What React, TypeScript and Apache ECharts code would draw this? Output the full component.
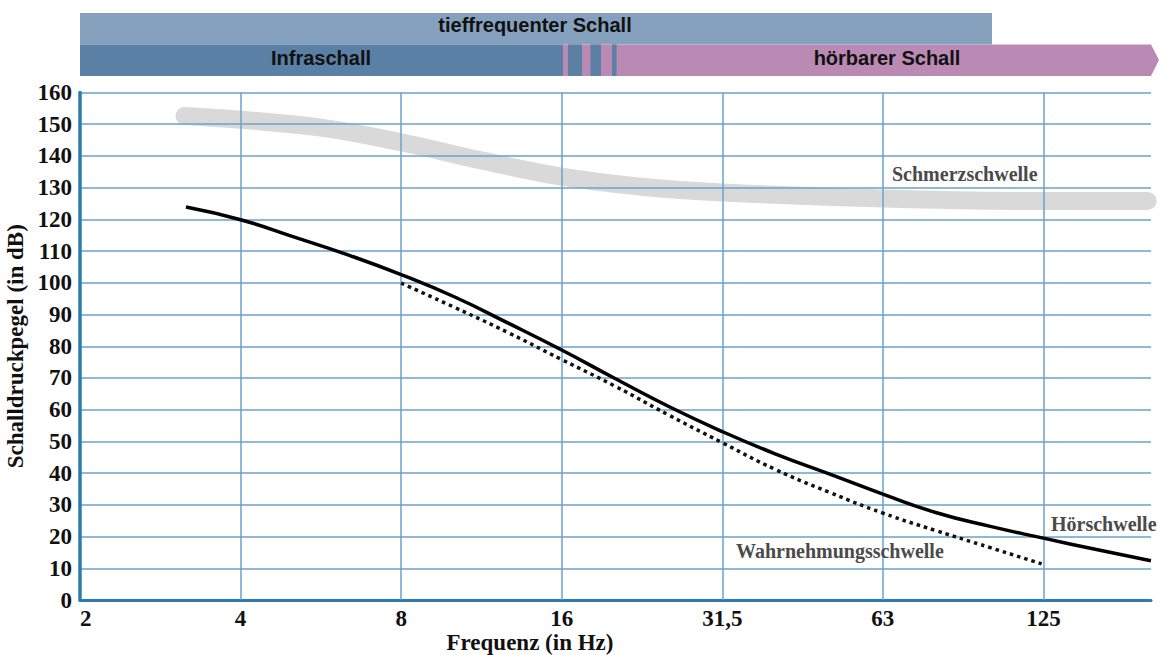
import React, { useEffect, useRef } from "react";
import * as echarts from "echarts";

// Tick labels of the frequency axis (octave steps from 2 Hz)
const xTickLabels = ["2", "4", "8", "16", "31,5", "63", "125"];
const xTickPositions = [0, 1, 2, 3, 4, 5, 6];

// Hörschwelle (Hz, dB)
const hoerFreq = [3.16, 4, 5.03, 6.36, 8, 10.06, 12.73, 16, 20.1, 25.4, 32, 40.2, 50.9, 64, 80.4, 101.8, 128, 160.9, 203.6];
const hoerDb = [123.9, 119.9, 114.5, 108.8, 102.6, 95.6, 87.2, 78.8, 69.9, 61.0, 53.1, 46.1, 39.7, 33.4, 27.6, 23.2, 19.5, 15.9, 12.4];

// Wahrnehmungsschwelle (Hz, dB)
const wahrFreq = [8, 10.06, 12.73, 16, 20.1, 25.4, 32, 40.2, 50.9, 64, 80.4, 101.8, 127];
const wahrDb = [99.9, 92.3, 84.2, 75.8, 67.5, 58.3, 49.6, 41.2, 33.9, 27.4, 21.9, 16.5, 11.4];

// Schmerzschwelle (Hz, dB)
const schmerzFreq = [3.14, 4, 5.66, 8, 11.3, 16, 22.6, 32, 64, 128, 200.8];
const schmerzDb = [152.6, 151.4, 148.9, 144.3, 138.6, 133.5, 130.3, 128.5, 126.6, 125.8, 125.8];

const toOct = (f: number) => Math.log2(f / 2);
const pairs = (fs: number[], ds: number[]) => fs.map((f, i) => [toOct(f), ds[i]]);

const SERIF = "'Liberation Serif', 'DejaVu Serif', serif";
const SANS = "'Liberation Sans', Arial, sans-serif";

export default function App() {
  const ref = useRef<HTMLDivElement>(null);
  useEffect(() => {
    if (!ref.current) return;
    const chart = echarts.init(ref.current, undefined, { renderer: "svg" });
    const gridColor = "#6aa2c8";
    chart.setOption({
      animation: false,
      backgroundColor: "#ffffff",
      grid: { left: 80, right: 8, top: 92.5, bottom: 55, containLabel: false, outerBoundsMode: "none" },
      xAxis: {
        type: "value",
        min: 0,
        max: 6.67,
        interval: 1,
        axisLine: { show: true, onZero: false, lineStyle: { color: "#2b7cab", width: 3 } },
        axisTick: { show: false },
        splitLine: { show: false },
        axisLabel: {
          show: true,
          margin: 7,
          showMaxLabel: false,
          alignMinLabel: "left",
          fontFamily: SERIF,
          fontWeight: "bold",
          fontSize: 23,
          color: "#111",
          formatter: (v: number) => {
            const i = xTickPositions.indexOf(Math.round(v * 100) / 100);
            return i >= 0 ? xTickLabels[i] : "";
          },
        },
      },
      yAxis: {
        type: "value",
        min: 0,
        max: 160,
        interval: 10,
        name: "Schalldruckpegel (in dB)",
        nameLocation: "middle",
        nameGap: 43,
        nameTextStyle: { fontFamily: SERIF, fontWeight: "bold", fontSize: 23, color: "#111" },
        axisLine: { show: true, lineStyle: { color: "#2b7cab", width: 3.5 } },
        axisTick: { show: false },
        splitLine: { show: true, lineStyle: { color: gridColor, width: 1.5 } },
        axisLabel: {
          margin: 8,
          fontFamily: SERIF,
          fontWeight: "bold",
          fontSize: 23,
          color: "#111",
        },
      },
      series: [
        {
          name: "Schmerzschwelle",
          type: "line",
          z: -1,
          smooth: 0.4,
          symbol: "none",
          data: pairs(schmerzFreq, schmerzDb),
          lineStyle: { color: "#d9d9d9", width: 18, cap: "round", join: "round" },
          markLine: {
            z: 1,
            silent: true,
            symbol: ["none", "none"],
            label: { show: false },
            lineStyle: { color: gridColor, width: 1.5, type: "solid" },
            data: xTickPositions.slice(1).map((p) => ({ xAxis: p })),
          },
        },
        {
          name: "Wahrnehmungsschwelle",
          type: "line",
          z: 3,
          smooth: 0.5,
          symbol: "none",
          data: pairs(wahrFreq, wahrDb),
          lineStyle: { color: "#111", width: 3.5, type: [3.5, 4], cap: "butt" },
        },
        {
          name: "Hörschwelle",
          type: "line",
          z: 4,
          smooth: 0.5,
          symbol: "none",
          data: pairs(hoerFreq, hoerDb),
          lineStyle: { color: "#000", width: 3.5 },
        },
      ],
      graphic: [
        { type: "rect", shape: { x: 80, y: 13, width: 912, height: 31.5 }, style: { fill: "#85a1be" } },
        { type: "rect", shape: { x: 80, y: 44.5, width: 484, height: 31.5 }, style: { fill: "#5a80a5" } },
        {
          type: "polygon",
          shape: { points: [[563, 44.5], [1151, 44.5], [1159, 60], [1151, 76], [563, 76]] },
          style: { fill: "#bb8ab4" },
        },
        { type: "rect", shape: { x: 568, y: 44.5, width: 14, height: 31.5 }, style: { fill: "#5a80a5" } },
        { type: "rect", shape: { x: 590.5, y: 44.5, width: 10.5, height: 31.5 }, style: { fill: "#5a80a5" } },
        { type: "rect", shape: { x: 612, y: 44.5, width: 4.5, height: 31.5 }, style: { fill: "#5a80a5" } },
        {
          type: "text", x: 535, y: 25, style: {
            text: "tieffrequenter Schall", fill: "#111", font: `bold 20px ${SANS}`,
            textAlign: "center", textVerticalAlign: "middle",
          },
        },
        {
          type: "text", x: 321, y: 58, style: {
            text: "Infraschall", fill: "#111", font: `bold 20px ${SANS}`,
            textAlign: "center", textVerticalAlign: "middle",
          },
        },
        {
          type: "text", x: 887, y: 58, style: {
            text: "hörbarer Schall", fill: "#111", font: `bold 20px ${SANS}`,
            textAlign: "center", textVerticalAlign: "middle",
          },
        },
        {
          type: "text", x: 530, y: 642, style: {
            text: "Frequenz (in Hz)", fill: "#111", font: `bold 23px ${SERIF}`,
            textAlign: "center", textVerticalAlign: "middle",
          },
        },
        {
          type: "text", x: 892, y: 174, z: 10, style: {
            text: "Schmerzschwelle", fill: "#4a4a4a", font: `bold 20px ${SERIF}`,
            textAlign: "left", textVerticalAlign: "middle",
          },
        },
        {
          type: "text", x: 1051, y: 524, z: 10, style: {
            text: "Hörschwelle", fill: "#4a4a4a", font: `bold 20px ${SERIF}`,
            textAlign: "left", textVerticalAlign: "middle",
          },
        },
        {
          type: "text", x: 736, y: 551, z: 10, style: {
            text: "Wahrnehmungsschwelle", fill: "#4a4a4a", font: `bold 20px ${SERIF}`,
            textAlign: "left", textVerticalAlign: "middle",
          },
        },
      ],
    });
    return () => chart.dispose();
  }, []);
  return (
    <div
      ref={ref}
      style={{ position: "fixed", left: 0, top: 0, width: 1159, height: 655, background: "#fff" }}
    />
  );
}
